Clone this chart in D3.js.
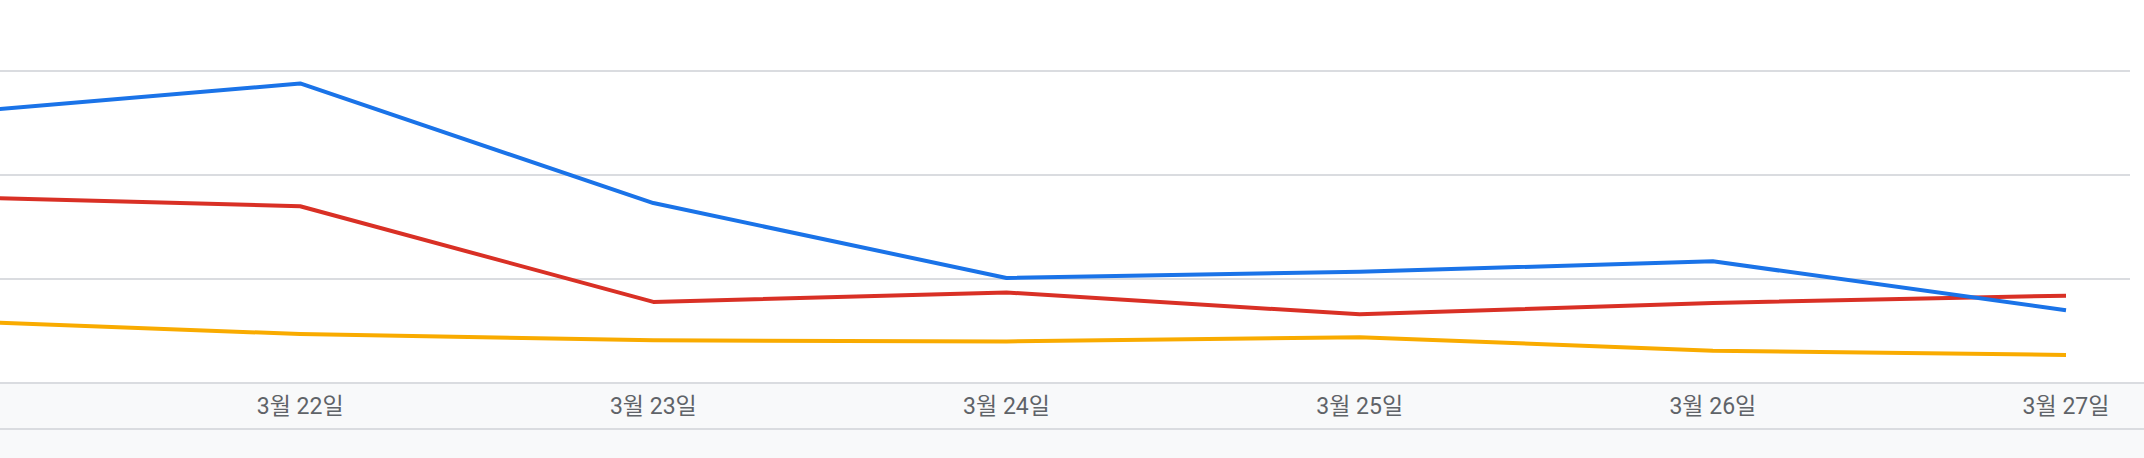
<!DOCTYPE html>
<html>
<head>
<meta charset="utf-8">
<script src="https://cdn.jsdelivr.net/npm/d3@7"></script>
<style>
  html, body { margin: 0; padding: 0; background: #fff; }
  .tick-label { font-family: Roboto, "Noto Sans CJK KR", sans-serif; fill: #5f6368; }
</style>
</head>
<body>
<div id="chart"></div>
<script>
// dates (3월 21일 sits just left of the visible area)
let days = ["3월 21일", "3월 22일", "3월 23일", "3월 24일", "3월 25일", "3월 26일", "3월 27일"];
let blueValues   = [259, 288, 173, 101, 107, 117, 70];
let redValues    = [179, 170, 78, 87, 66, 77, 84];
let orangeValues = [60, 47, 41, 40, 44, 31, 27];
let yTicks = [0, 100, 200, 300];

var width = 2144,
    height = 458,
    plotRight = 2130,
    plotBottom = 383,
    bandBottom = 429;

var svg = d3.select("#chart")
    .append("svg")
    .attr("width", width)
    .attr("height", height);

// x scale: first day falls off the left edge, last one ends at 2066
var x = d3.scalePoint()
    .domain(days)
    .range([-53, 2066]);

var y = d3.scaleLinear()
    .domain([0, 300])
    .range([plotBottom, 71]);

// grey band under the plot
svg.append("rect")
    .attr("x", 0).attr("y", plotBottom)
    .attr("width", width).attr("height", height - plotBottom)
    .style("fill", "#f8f9fa");

// grid lines
svg.append("g")
    .selectAll("line")
    .data(yTicks)
    .enter().append("line")
        .attr("x1", 0)
        .attr("x2", function(d) { return d == 0 ? width : plotRight; })
        .attr("y1", function(d) { return y(d); })
        .attr("y2", function(d) { return y(d); })
        .style("stroke", "#dadce0")
        .style("stroke-width", 2);

svg.append("line")
    .attr("x1", 0).attr("x2", width)
    .attr("y1", bandBottom).attr("y2", bandBottom)
    .style("stroke", "#dadce0")
    .style("stroke-width", 2);

// x labels (skip the hidden first day)
svg.append("g")
    .selectAll(".tick-label")
    .data(days.slice(1))
    .enter().append("text")
        .attr("class", "tick-label")
        .attr("x", function(d) { return x(d); })
        .attr("y", 414)
        .style("font-size", "23px")
        .style("text-anchor", "middle")
        .text(function(d) { return d; });

svg.append("defs")
    .append("clipPath")
    .attr("id", "plot-clip")
    .append("rect")
    .attr("x", 0).attr("y", 0)
    .attr("width", plotRight).attr("height", plotBottom);

var line = d3.line()
    .x(function(d, i) { return x(days[i]); })
    .y(function(d) { return y(d); });

var series = [
    {values: orangeValues, color: "#f9ab00"},
    {values: redValues, color: "#d93025"},
    {values: blueValues, color: "#1a73e8"}
];

svg.append("g")
    .attr("clip-path", "url(#plot-clip)")
    .selectAll("path")
    .data(series)
    .enter().append("path")
        .attr("d", function(d) { return line(d.values); })
        .style("fill", "none")
        .style("stroke", function(d) { return d.color; })
        .style("stroke-width", 4)
        .style("stroke-linejoin", "round");
</script>
</body>
</html>
